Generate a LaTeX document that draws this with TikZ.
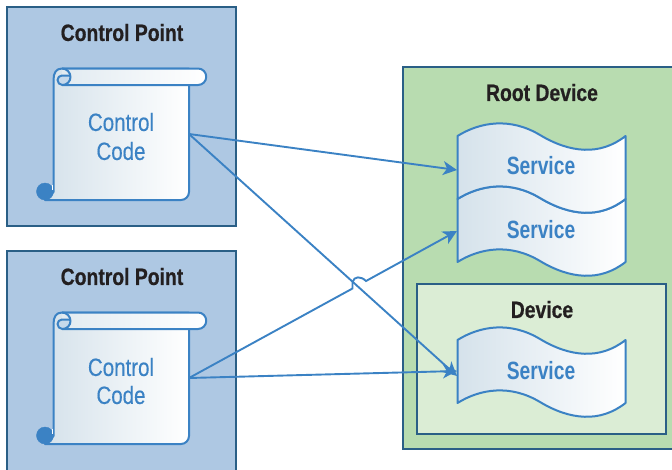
\documentclass[tikz,border=0pt]{standalone}
\usepackage{fontspec}
\setmainfont{Liberation Sans}
\newfontfamily\narrowfont[FakeStretch=0.82,FakeBold=0.25]{Liberation Sans}
\newfontfamily\narrowbold[FakeStretch=0.82,FakeBold=0.6]{Liberation Sans}
\newfontfamily\narrowheavy[FakeStretch=0.77]{Liberation Sans}
\usetikzlibrary{arrows.meta}
\definecolor{pointblue}{HTML}{AEC8E3}
\definecolor{rootgreen}{HTML}{B8DCB0}
\definecolor{devicegreen}{HTML}{DBEDD5}
\definecolor{frameblue}{HTML}{2A5F86}
\definecolor{lineblue}{HTML}{3B82C4}
\definecolor{shadeblue}{HTML}{D5E2EB}
\definecolor{titleblack}{HTML}{231F20}
\tikzset{
  framebox/.style={draw=frameblue, line width=2pt},
  paper/.style={draw=lineblue, line width=2pt, left color=shadeblue, right color=white, line join=round},
  curl/.style={draw=lineblue, line width=2pt, line join=round},
  title/.style={font=\narrowbold\bfseries\fontsize{23.6}{23.6}\selectfont, text=titleblack, inner sep=0pt},
  codetext/.style={font=\narrowfont\fontsize{25}{25}\selectfont, text=lineblue, inner sep=0pt},
  servicetext/.style={font=\narrowheavy\bfseries\fontsize{25}{25}\selectfont, text=lineblue, inner sep=0pt},
  wire/.style={draw=lineblue, line width=1.9pt},
  arrowwire/.style={wire, -{Stealth[length=14pt,width=14pt,inset=4pt]}},
}
\begin{document}
\begin{tikzpicture}[x=1pt,y=-1pt]
  \useasboundingbox (0,0) rectangle (672,469);
  \clip (0,0) rectangle (672,469);

  % Drawing the two control point frames
  \draw [framebox, fill=pointblue] (7,7) rectangle (236,226);%
  \draw [framebox, fill=pointblue] (7,251) rectangle (236,480);%

  % Drawing the root device frame and the device frame
  \draw [framebox, fill=rootgreen] (403,67) rectangle (680,449);%
  \draw [framebox, fill=devicegreen] (417,284) rectangle (666,434);%

  % Drawing scroll of upper control code
  \draw [paper] (53.5,80) .. controls (53.5,73) and (56,68.5) .. (62,68.5) -- (189,68.5) -- (189,192) arc (0:90:8) -- (45,200) -- (53.5,192) -- cycle;%
  \draw [paper, left color=shadeblue!70!white] (62,85) -- (198,85) arc (90:-90:8.25) -- (62,68.5);%
  \draw [curl, fill=pointblue!70!white] (70.5,77) arc (0:90:8) arc (90:180:5) arc (180:270:4.5) -- (70.5,75.5);%
  \draw [curl] (62,68.5) arc (-90:0:8.5);%
  \draw [draw=lineblue, fill=lineblue] (45,191.5) circle (8.5);%
  \draw [draw=white, line width=0.8pt] (52,185) -- (52,189.5);%

  % Drawing scroll of lower control code
  \draw [paper] (53.5,324) .. controls (53.5,317) and (56,312.5) .. (62,312.5) -- (189,312.5) -- (189,436) arc (0:90:8) -- (45,444) -- (53.5,436) -- cycle;%
  \draw [paper, left color=shadeblue!70!white] (62,329) -- (198,329) arc (90:-90:8.25) -- (62,312.5);%
  \draw [curl, fill=pointblue!70!white] (70.5,321) arc (0:90:8) arc (90:180:5) arc (180:270:4.5) -- (70.5,319.5);%
  \draw [curl] (62,312.5) arc (-90:0:8.5);%
  \draw [draw=lineblue, fill=lineblue] (45,435.5) circle (8.5);%
  \draw [draw=white, line width=0.8pt] (52,429) -- (52,433.5);%

  % Drawing the services of the root device
  \draw [paper] (457.5,199) .. controls (480,185) and (510,180) .. (540,198) .. controls (570,216) and (600,219) .. (625.5,199) -- (625.5,262) .. controls (600,282) and (570,279) .. (540,261) .. controls (510,243) and (480,248) .. (457.5,262) -- cycle;%
  \draw [paper] (457.5,136) .. controls (480,122) and (510,117) .. (540,135) .. controls (570,153) and (600,156) .. (625.5,136) -- (625.5,199) .. controls (600,219) and (570,216) .. (540,198) .. controls (510,180) and (480,185) .. (457.5,199) -- cycle;%

  % Drawing the service of the device
  \draw [paper] (457.5,340) .. controls (480,326) and (510,321) .. (540,339) .. controls (570,357) and (600,360) .. (625.5,340) -- (625.5,403) .. controls (600,423) and (570,420) .. (540,402) .. controls (510,384) and (480,389) .. (457.5,403) -- cycle;%

  % Marking the titles
  \node [title] (point1) at (122,32.5) {Control Point};%
  \node [title] (point2) at (122,276.5) {Control Point};%
  \node [title] (root) at (542,92.5) {Root Device};%
  \node [title] (device) at (542,309.5) {Device};%

  % Marking the code labels
  \node [codetext] (code1a) at (121,122) {Control};%
  \node [codetext] (code1b) at (121,151) {Code};%
  \node [codetext] (code2a) at (121,367) {Control};%
  \node [codetext] (code2b) at (121,395) {Code};%

  % Marking the service labels
  \node [servicetext] (service1) at (541,165.5) {Service};%
  \node [servicetext] (service2) at (541,229.5) {Service};%
  \node [servicetext] (service3) at (541,370.5) {Service};%

  % Ends of the connectors
  \coordinate (out1) at (189,134);%
  \coordinate (out2) at (189,378);%
  \coordinate (in1) at (457,170);%
  \coordinate (in2) at (457,231);%
  \coordinate (in3a) at (457,371);%
  \coordinate (in3b) at (457,376);%
  \coordinate (hopa) at (352.5,288.5);%
  \coordinate (hopb) at (352.5,282);%
  \coordinate (hopc) at (366,281);%

  % Drawing the connectors
  \draw [arrowwire] (out1) -- (in1);%
  \draw [arrowwire] (out1) -- (in3b);%
  \draw [arrowwire] (out2) -- (in3a);%
  \draw [arrowwire] (out2) -- (hopa) -- (hopb) .. controls (354,276) and (361,276) .. (hopc) -- (in2);%
\end{tikzpicture}
\end{document}
